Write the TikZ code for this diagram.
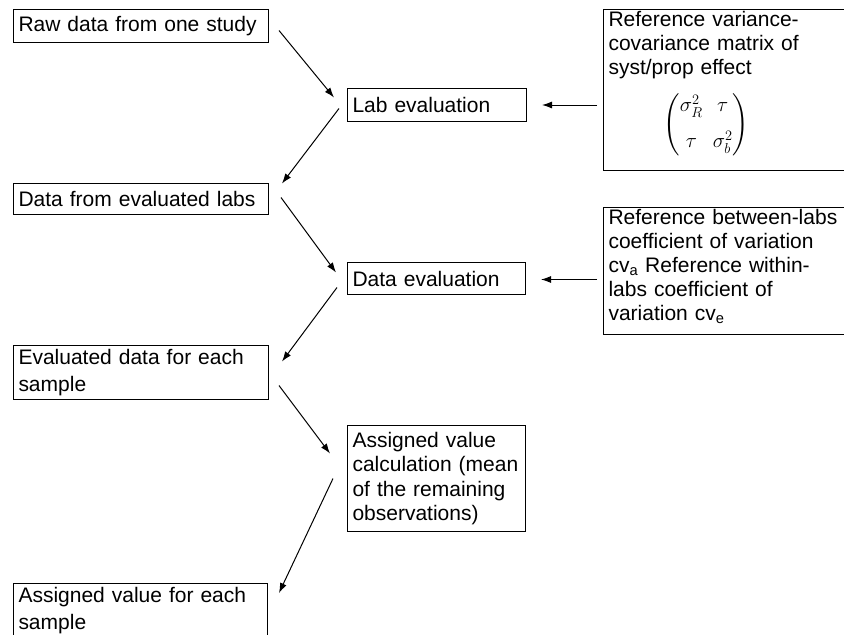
\documentclass[tikz,border=0pt]{standalone}
\usepackage{amsmath}
\usepackage{fontspec}
\setmainfont{Liberation Sans}
\usetikzlibrary{arrows.meta}
\usetikzlibrary{positioning}
\usetikzlibrary{calc}

\begin{document}
\begin{tikzpicture}[x=1pt,y=-1pt,
    box/.style={draw,line width=1pt,anchor=north west,align=left,inner xsep=5pt,inner ysep=2pt,font=\fontsize{21}{27}\selectfont},
    tight/.style={font=\fontsize{21}{24}\selectfont},
    flow/.style={line width=1pt,-{Latex[length=10pt,width=7pt]}}]
        \useasboundingbox (0,0) rectangle (844,635);
        \node[box,text width=245pt,minimum height=33pt] (raw) at (13,9) {Raw data from one study};
        \node[box,text width=245pt,minimum height=31pt] (labs) at (13,183) {Data from evaluated labs};
        \node[box,text width=245pt,minimum height=54pt] (evdata) at (13,345) {Evaluated data for each\\sample};
        \node[box,text width=244pt,minimum height=54pt] (assigned) at (13,583) {Assigned value for each\\sample};
        \node[box,text width=169pt,minimum height=33pt] (labeval) at (347,88) {Lab evaluation};
        \node[box,text width=168pt,minimum height=32pt] (dataeval) at (347,262) {Data evaluation};
        \node[box,font=\fontsize{21}{24.5}\selectfont,text width=168pt,minimum height=106pt] (calc) at (347,425) {Assigned value\\calculation (mean\\of the remaining\\observations)};
        \node[box,tight,text width=247pt] (refvar) at (603,9) {Reference variance-\\covariance matrix of\\syst/prop effect\\[14pt]\hspace*{55pt}$\begin{pmatrix}\sigma_R^2 & \tau\\[12pt] \tau & \sigma_b^2\end{pmatrix}$\rule[-38pt]{0pt}{38pt}};
        \node[box,tight,text width=247pt] (refcv) at (603,207) {Reference between-labs\\coefficient of variation\\cv\textsubscript{a} Reference within-\\labs coefficient of\\variation cv\textsubscript{e}\rule[-12pt]{0pt}{12pt}};
        \draw[flow] ($(raw.east)+(10,4.5)$) -- ($(labeval.west)+(-13,-7.5)$);
        \draw[flow] ($(labeval.west)+(-8,3.5)$) -- ($(labs.east)+(13,-15.5)$);
        \draw[flow] ($(labs.east)+(12,-1.5)$) -- ($(dataeval.west)+(-11,-6)$);
        \draw[flow] ($(dataeval.west)+(-10,9)$) -- ($(evdata.east)+(13,-11)$);
        \draw[flow] ($(evdata.east)+(10,13)$) -- ($(calc.west)+(-17,-25)$);
        \draw[flow] ($(calc.west)+(-14,0)$) -- ($(assigned.north east)+(11,10)$);
        \draw[flow] ($(refvar.west |- labeval.east)+(-6,0)$) -- ($(labeval.east)+(15,0)$);
        \draw[flow] ($(refcv.west |- dataeval.east)+(-6,1)$) -- ($(dataeval.east)+(15,1)$);
    \end{tikzpicture}
\end{document}
